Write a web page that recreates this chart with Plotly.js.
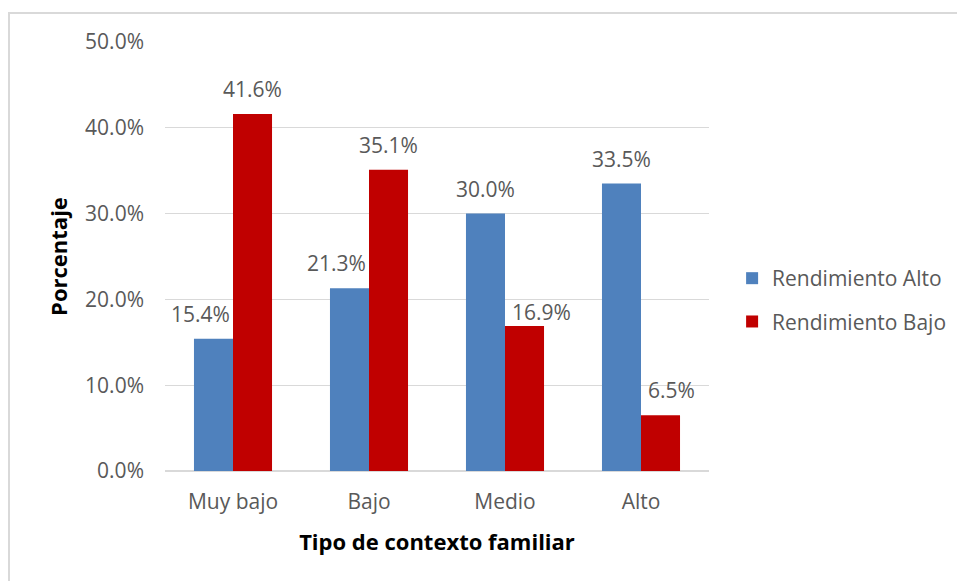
<!DOCTYPE html>
<html>
<head>
<meta charset="utf-8">
<script src="https://cdn.plot.ly/plotly-3.0.1.min.js"></script>
<style>
  html, body { margin: 0; padding: 0; background: #ffffff; overflow: hidden; }
  #chart { position: absolute; left: 0; top: 0; width: 957px; height: 581px; }
  #frame { position: absolute; left: 8px; top: 12px; width: 1000px; height: 700px;
           border-left: 2px solid #d9d9d9; border-top: 2px solid #d9d9d9; pointer-events: none; }
</style>
</head>
<body>
<div id="chart"></div>
<div id="frame"></div>
<script>
// Porcentaje de estudiantes por tipo de contexto familiar
const categories = ['Muy bajo', 'Bajo', 'Medio', 'Alto'];
const seriesNames = ['Rendimiento Alto', 'Rendimiento Bajo'];
const rendimientoAlto = [15.4, 21.3, 30.0, 33.5];
const rendimientoBajo = [41.6, 35.1, 16.9, 6.5];
const yTicks = [0, 10, 20, 30, 40, 50];

const colors = ['#4f81bd', '#c00000'];
const font = 'Open Sans, Noto Sans, sans-serif';
const grey = '#595959';
const textSize = 21;

const traces = [rendimientoAlto, rendimientoBajo].map((vals, i) => ({
  type: 'bar',
  name: seriesNames[i],
  x: categories,
  y: vals,
  marker: { color: colors[i] },
  legendgroup: 'g' + i,
  hoverinfo: 'x+y+name'
}));

// Value labels: the shorter bar of each pair slides its label away from the taller neighbour
const plotW = 957 - 165 - 248;
const bandPx = plotW / categories.length;
const bargap = 0.426;
const barPx = bandPx * (1 - bargap) / 2;
const labelNudgeY = { 'g1|Medio': -11 };
const annotations = [];
categories.forEach((cat, k) => {
  const a = rendimientoAlto[k], b = rendimientoBajo[k];
  [[a, b, 0], [b, a, 1]].forEach(([v, other, i]) => {
    const side = i === 0 ? -1 : 1;
    let xanchor = 'center', xshift = side * barPx / 2;
    if (v < other) {
      xanchor = i === 0 ? 'right' : 'left';
      xshift = i === 0 ? -1 : 5;
    }
    annotations.push({
      x: cat, y: v, xref: 'x', yref: 'y',
      text: v.toFixed(1) + '%',
      showarrow: false,
      xanchor: xanchor, yanchor: 'bottom',
      xshift: xshift, yshift: 9 + (labelNudgeY['g' + i + '|' + cat] || 0),
      font: { family: font, size: textSize, color: grey }
    });
  });
});

const layout = {
  width: 957, height: 581,
  margin: { l: 165, r: 248, t: 42, b: 110 },
  paper_bgcolor: '#ffffff', plot_bgcolor: '#ffffff',
  barmode: 'group', bargap: bargap, bargroupgap: 0,
  font: { family: font, size: textSize, color: grey },
  xaxis: {
    type: 'category',
    showgrid: false, showline: false, zeroline: false,
    ticks: '', ticklabelstandoff: 16,
    tickfont: { family: font, size: textSize, color: grey },
    title: { text: 'Tipo de contexto familiar', standoff: 20,
             font: { family: font, size: 22, color: '#000000', weight: 'bold' } }
  },
  yaxis: {
    range: [0, 50], tickvals: yTicks,
    ticktext: yTicks.map(t => t.toFixed(1) + '%'),
    showgrid: true, gridcolor: '#d9d9d9', gridwidth: 1.3,
    zeroline: true, zerolinecolor: '#d9d9d9', zerolinewidth: 1.3,
    showline: false, ticks: '', ticklabelstandoff: 20,
    tickfont: { family: font, size: textSize, color: grey },
    title: { text: 'Porcentaje', standoff: 11,
             font: { family: font, size: 22, color: '#000000', weight: 'bold' } }
  },
  legend: {
    xref: 'container', yref: 'container',
    x: 0.765, xanchor: 'left', y: 0.4836, yanchor: 'middle',
    traceorder: 'grouped', tracegroupgap: 13,
    font: { family: font, size: textSize, color: grey },
    bgcolor: 'rgba(0,0,0,0)', itemclick: false, itemdoubleclick: false
  },
  annotations: annotations,
  showlegend: true
};

Plotly.newPlot('chart', traces, layout, { displayModeBar: false, staticPlot: true });
</script>
</body>
</html>
